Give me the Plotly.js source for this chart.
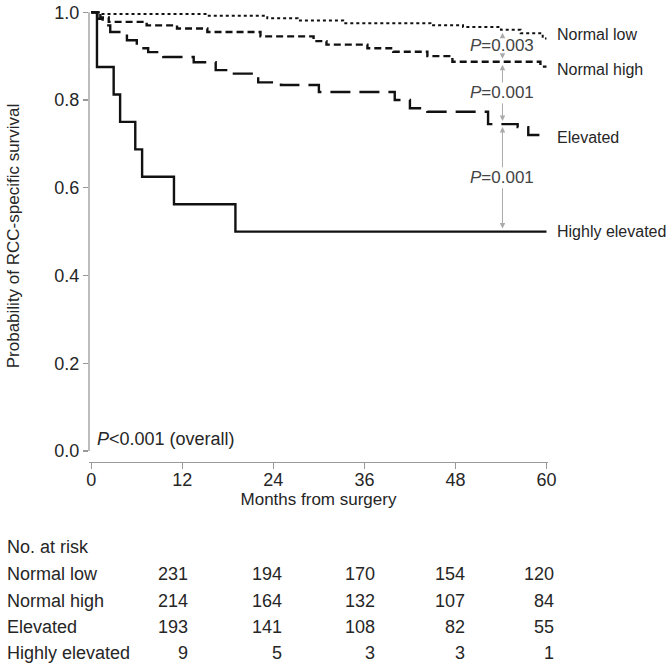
<!DOCTYPE html>
<html>
<head>
<meta charset="utf-8">
<script src="https://cdn.plot.ly/plotly-3.0.1.min.js"></script>
<style>html,body{margin:0;padding:0;background:#fff;}#chart{width:670px;height:667px;}</style>
</head>
<body>
<div id="chart"></div>
<script>
// ---- Data ----
const groupNames = ['Normal low', 'Normal high', 'Elevated', 'Highly elevated'];

const normalLowT = [0, 1.0, 15.3, 23.2, 27.2, 33.2, 44.7, 49.0, 54.0, 56.6, 59.5, 60];
const normalLowS = [1.0, 0.996, 0.992, 0.986, 0.981, 0.975, 0.970, 0.966, 0.960, 0.952, 0.940, 0.940];

const normalHighT = [0, 1.2, 2.3, 7.3, 11.3, 15.3, 22.3, 29.3, 31.0, 36.4, 39.8, 44.3, 47.6, 59.2, 60];
const normalHighS = [1.0, 0.988, 0.978, 0.970, 0.963, 0.955, 0.945, 0.934, 0.926, 0.918, 0.910, 0.900, 0.887, 0.876, 0.876];

const elevatedT = [0, 0.8, 1.5, 2.5, 4.7, 6.0, 7.5, 9.5, 13.5, 16.4, 18.8, 22.0, 25.0, 30.0, 40.0, 42.0, 44.3, 52.3, 56.2, 57.6, 60];
const elevatedS = [1.0, 0.985, 0.970, 0.955, 0.936, 0.918, 0.909, 0.898, 0.886, 0.868, 0.860, 0.840, 0.834, 0.818, 0.800, 0.781, 0.773, 0.745, 0.738, 0.720, 0.720];

const highlyT = [0, 0.75, 2.95, 3.8, 5.8, 6.7, 10.9, 19.0, 60];
const highlyS = [1.0, 0.875, 0.8125, 0.75, 0.6875, 0.625, 0.5625, 0.5, 0.5];

const xTicks = [0, 12, 24, 36, 48, 60];
const yTicks = [0, 0.2, 0.4, 0.6, 0.8, 1.0];

const riskNormalLow = [231, 194, 170, 154, 120];
const riskNormalHigh = [214, 164, 132, 107, 84];
const riskElevated = [193, 141, 108, 82, 55];
const riskHighly = [9, 5, 3, 3, 1];

const pairP = ['0.003', '0.001', '0.001'];
const overallP = '<0.001';
const pMonth = 54.2;

// ---- Build ----
const series = [
  {t: normalLowT, s: normalLowS, dash: 'dot', width: 2},
  {t: normalHighT, s: normalHighS, dash: '7px,4px', width: 2.4},
  {t: elevatedT, s: elevatedS, dash: '20px,9px', width: 2.4},
  {t: highlyT, s: highlyS, dash: 'solid', width: 2.4}
];
const risks = [riskNormalLow, riskNormalHigh, riskElevated, riskHighly];

const traces = series.map((d, i) => ({
  x: d.t, y: d.s, type: 'scatter', mode: 'lines', name: groupNames[i],
  line: {shape: 'hv', color: '#111', width: d.width, dash: d.dash},
  hoverinfo: 'skip'
}));

function valueAt(t, s, m) {
  let v = s[0];
  for (let k = 0; k < t.length; k++) { if (t[k] <= m) v = s[k]; }
  return v;
}

const txt = '#262626';
const font = 'Liberation Sans, Arial, Helvetica, sans-serif';

const L = 89, R = 122, T = 10, B = 205, W = 670, H = 667;
const pw = W - L - R, ph = H - T - B;
const px2x = px => (px - L) / pw;
const py2y = py => (H - B - py) / ph;

const annotations = [];

// curve end labels
const labelShift = [4, -3, -2, 0];
series.forEach((d, i) => {
  annotations.push({
    x: 60, y: d.s[d.s.length - 1], xref: 'x', yref: 'y', xanchor: 'left', yanchor: 'middle',
    xshift: 9, yshift: labelShift[i], text: groupNames[i], showarrow: false,
    font: {family: font, size: 16, color: txt}
  });
});

// pairwise p-values with arrows
for (let i = 0; i < 3; i++) {
  const upper = valueAt(series[i].t, series[i].s, pMonth);
  const lower = valueAt(series[i + 1].t, series[i + 1].s, pMonth);
  const mid = (upper + lower) / 2;
  annotations.push({
    x: pMonth, y: mid, xref: 'x', yref: 'y', text: '<i>P</i>=' + pairP[i], showarrow: false,
    xanchor: 'center', yanchor: 'middle', font: {family: font, size: 17, color: '#444'}
  });
  [upper, lower].forEach(tip => {
    annotations.push({
      x: pMonth, y: tip, ax: pMonth, ay: mid, xref: 'x', yref: 'y', axref: 'x', ayref: 'y',
      text: '', showarrow: true, arrowhead: 2, arrowsize: 1.1, arrowwidth: 1,
      arrowcolor: '#aaa', standoff: 3, startstandoff: 9
    });
  });
}

// overall p
annotations.push({
  x: 0.5, y: 0.028, xref: 'x', yref: 'y', xanchor: 'left', yanchor: 'middle',
  text: '<i>P</i>' + overallP + ' (overall)', showarrow: false,
  font: {family: font, size: 18, color: txt}
});

// at-risk table
annotations.push({
  x: px2x(5), y: py2y(547), xref: 'paper', yref: 'paper', xanchor: 'left', yanchor: 'middle',
  text: 'No. at risk', showarrow: false, font: {family: font, size: 18, color: txt}
});
const rowY = [574, 601, 627, 653];
const colRight = [190, 284, 377, 467, 556];
groupNames.forEach((g, i) => {
  annotations.push({
    x: px2x(5), y: py2y(rowY[i]), xref: 'paper', yref: 'paper', xanchor: 'left', yanchor: 'middle',
    text: g, showarrow: false, font: {family: font, size: 18, color: txt}
  });
  risks[i].forEach((n, j) => {
    annotations.push({
      x: px2x(colRight[j]), y: py2y(rowY[i]), xref: 'paper', yref: 'paper', xanchor: 'right', yanchor: 'middle',
      text: String(n), showarrow: false, font: {family: font, size: 18, color: txt}
    });
  });
});

const layout = {
  width: W, height: H,
  margin: {l: L, r: R, t: T, b: B, pad: 0},
  paper_bgcolor: '#fff', plot_bgcolor: '#fff',
  showlegend: false,
  font: {family: font, size: 17, color: txt},
  xaxis: {
    range: [-0.3, 60.2], tickvals: xTicks, ticktext: xTicks.map(String),
    showgrid: false, zeroline: false, showline: true, linecolor: '#999', linewidth: 1.3,
    ticks: 'outside', ticklen: 6, tickcolor: '#999', tickwidth: 1.3,
    ticklabelstandoff: -5,
    tickfont: {family: font, size: 18, color: txt},
    title: {text: 'Months from surgery', font: {family: font, size: 17, color: txt}, standoff: 1}
  },
  yaxis: {
    range: [-0.025, 1.005], tickvals: yTicks, tickformat: '.1f',
    showgrid: false, zeroline: false, showline: false,
    ticks: 'outside', ticklen: 5, tickcolor: '#999', tickwidth: 1.3,
    tickfont: {family: font, size: 18, color: txt},
    title: {text: 'Probability of RCC-specific survival', font: {family: font, size: 17, color: txt}, standoff: 30}
  },
  shapes: [{
    type: 'line', xref: 'paper', yref: 'y', x0: 0, x1: 0, y0: 0, y1: 1,
    line: {color: '#999', width: 1.3}
  }],
  annotations: annotations
};

Plotly.newPlot('chart', traces, layout, {staticPlot: true, displayModeBar: false});
</script>
</body>
</html>
